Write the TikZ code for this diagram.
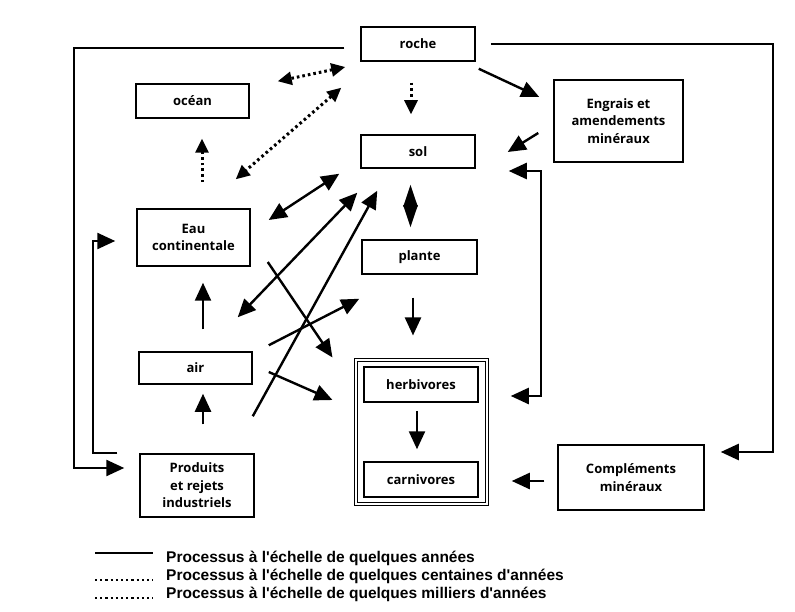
\documentclass[tikz,border=0pt]{standalone}
\usepackage{fontspec}
\usetikzlibrary{arrows.meta,calc}
\newfontfamily\boxfont{Open Sans}
\newfontfamily\legfont{Liberation Sans}
\begin{document}
\begin{tikzpicture}[x=1pt,y=-1pt,
  box/.style={draw, line width=1.5pt, inner sep=0pt, align=center,
              font=\boxfont\bfseries\fontsize{13}{17.5}\selectfont},
  arr/.style={line width=2.4pt, -{Triangle[length=18pt,width=16pt]}},
  darr/.style={line width=2.4pt, {Triangle[length=18pt,width=16pt]}-{Triangle[length=18pt,width=16pt]}},
  dotline/.style={line width=3pt, dash pattern=on 2.6pt off 3pt},
  dotarr/.style={dotline, -{Triangle[length=14pt,width=13pt]}},
  ddotarr/.style={dotline, {Triangle[length=14pt,width=13pt]}-{Triangle[length=14pt,width=13pt]}},
  legtext/.style={anchor=base west, inner sep=0pt, font=\legfont\bfseries\fontsize{15.5}{18}\selectfont}
]
\useasboundingbox[fill=white] (0,0) rectangle (795,612);

% boxes
\node[box, minimum width=114pt, minimum height=34pt] (roche) at (418,44) {roche};
\node[box, minimum width=113pt, minimum height=34pt] (ocean) at (192.5,101) {océan};
\node[box, minimum width=114pt, minimum height=33pt] (sol) at (418,151.5) {sol};
\node[box, minimum width=129pt, minimum height=82pt] (engrais) at (618.5,121) {Engrais et\\amendements\\minéraux};
\node[box, minimum width=113pt, minimum height=57pt] (eau) at (193.5,237.5) {Eau\\continentale};
\node[box, minimum width=115pt, minimum height=34pt] (plante) at (419.5,257) {plante};
\node[box, minimum width=113pt, minimum height=32pt] (air) at (195.5,368) {air};
\node[box, minimum width=114pt, minimum height=63pt] (produits) at (197,485.5) {Produits\\et rejets\\industriels};
\node[draw, double, double distance=2pt, line width=1.1pt, minimum width=131pt, minimum height=144pt] (frame) at (421.5,432) {};
\node[box, minimum width=114pt, minimum height=35pt] (herbivores) at (421,384.5) {herbivores};
\node[box, minimum width=114pt, minimum height=35pt] (carnivores) at (421,479.5) {carnivores};
\node[box, minimum width=146pt, minimum height=65pt] (complements) at (631,477.5) {Compléments\\minéraux};

% long loops
\draw[arr] ($(roche.west)+(-16,4)$) -| (74,468) -- ($(produits.west)+(-15,-17.5)$);
\draw[arr] ($(produits.north west)+(-22,0)$) -| (93,241) -- ($(eau.west)+(-21,3.5)$);
\draw[arr] ($(roche.east)+(15,0)$) -| (773,452) -- ($(complements.east)+(16,-25.5)$);

% right side
\draw[arr] ($(roche.south east)+(3,7)$) -- ($(engrais.west)+(-14,-24)$);
\draw[arr] ($(engrais.west)+(-15,12)$) -- ($(sol.east)+(32,0.5)$);
\draw[darr] ($(sol.east)+(33,19.5)$) -| (541,396) -- ($(herbivores.east)+(32,11.5)$);
\draw[arr] ($(complements.west)+(-13,3.5)$) -- ($(carnivores.east)+(33,1.5)$);

% dotted
\draw[dotarr] ($(roche.south)+(-7,21)$) -- ($(sol.north)+(-7,-20)$);
\draw[ddotarr] ($(roche.west)+(-15,23)$) -- ($(ocean.north east)+(28,-2)$);
\draw[ddotarr] ($(roche.south west)+(-19,26)$) -- ($(eau.north east)+(-15,-29)$);
\draw[dotarr] ($(eau.north)+(8.5,-26)$) -- ($(ocean.south)+(9.5,20)$);

% central
\draw[darr] ($(eau.east)+(18,-17.5)$) -- ($(sol.south west)+(-21,5)$);
\draw[darr] ($(air.north east)+(-15,-34)$) -- ($(sol.south west)+(-3,24)$);
\draw[arr] ($(produits.north east)+(-2,-37)$) -- ($(sol.south west)+(17,22)$);
\draw[arr] ($(eau.east)+(17,24.5)$) -- ($(frame.north west)+(-23,-2)$);
\draw[arr] ($(air.north east)+(16,-6)$) -- ($(plante.south west)+(-2,24)$);
\draw[arr] ($(air.east)+(16,4)$) -- ($(frame.west)+(-23,-32)$);
\draw[arr] ($(air.north)+(7.5,-22)$) -- ($(eau.south)+(9.5,16)$);
\draw[arr] ($(produits.north)+(6,-29)$) -- ($(air.south)+(7.5,9)$);
\draw[line width=2.4pt, {Triangle[length=22pt,width=14pt]}-{Triangle[length=22pt,width=14pt]}]
  ($(sol.south)+(-7.5,16)$) -- ($(plante.north)+(-9,-12)$);
\draw[arr] ($(plante.south)+(-6.5,23)$) -- ($(frame.north)+(-8.5,-24)$);
\draw[arr] ($(herbivores.south)+(-4,8)$) -- ($(carnivores.north)+(-4,-12)$);

% legend
\coordinate (l1a) at (95,553); \coordinate (l1b) at (153,553);
\coordinate (l2a) at (95,580); \coordinate (l2b) at (153,580);
\coordinate (l3a) at (95,598); \coordinate (l3b) at (153,598);
\draw[line width=1.5pt] (l1a) -- (l1b);
\draw[line width=2.2pt, dash pattern=on 2.2pt off 3pt] (l2a) -- (l2b);
\draw[line width=2.2pt, dash pattern=on 2.2pt off 3pt] (l3a) -- (l3b);
\node[legtext] (t1) at (166,562) {Processus à l'échelle de quelques années};
\node[legtext] (t2) at (166,580) {Processus à l'échelle de quelques centaines d'années};
\node[legtext] (t3) at (166,598) {Processus à l'échelle de quelques milliers d'années};
\end{tikzpicture}
\end{document}
